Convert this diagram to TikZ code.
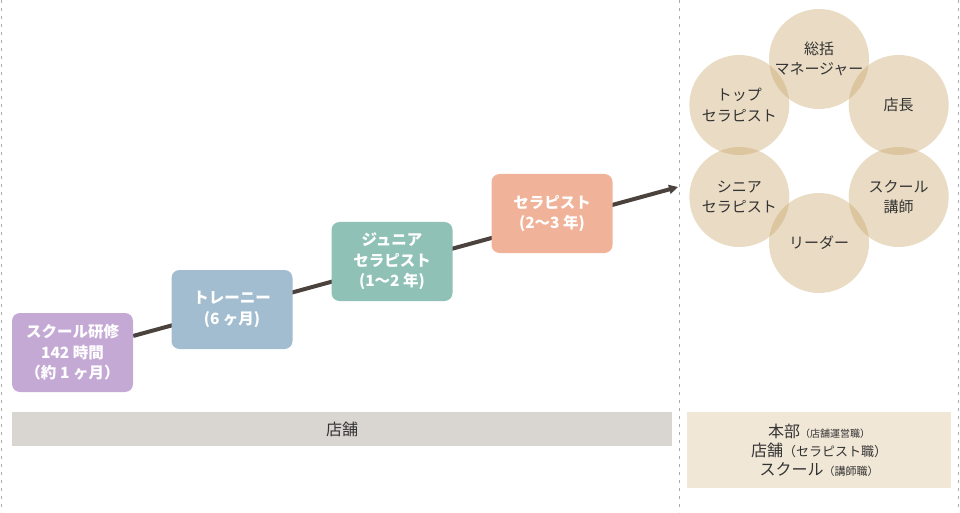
\documentclass[tikz,border=0pt]{standalone}
\usepackage{fontspec}
\setmainfont{Noto Sans CJK JP}
\usetikzlibrary{arrows.meta,backgrounds,calc}
\definecolor{schoolcolor}{RGB}{196, 169, 213}
\definecolor{traineecolor}{RGB}{163, 189, 208}
\definecolor{juniorcolor}{RGB}{143, 193, 183}
\definecolor{therapistcolor}{RGB}{240, 179, 153}
\definecolor{linecolor}{RGB}{75, 66, 61}
\definecolor{ringcolor}{RGB}{201, 166, 107}
\definecolor{storecolor}{RGB}{217, 214, 210}
\definecolor{hqcolor}{RGB}{241, 231, 215}
\definecolor{dashcolor}{RGB}{170, 170, 170}
\definecolor{inkcolor}{RGB}{51, 51, 51}

\begin{document}
\begin{tikzpicture}[x=1pt, y=1pt,
    stage/.style={rectangle, rounded corners=8pt, minimum width=121pt, minimum height=79pt, inner sep=0pt, align=center, text=white, font=\fontsize{15.5}{20.5}\selectfont\bfseries},
    post/.style={circle, fill=ringcolor, fill opacity=0.4, text opacity=1, minimum size=100pt, inner sep=0pt, align=center, text=inkcolor, font=\fontsize{15}{20.5}\selectfont},
    bar/.style={rectangle, inner sep=0pt, align=center, text=inkcolor, font=\fontsize{16}{19}\selectfont},
    arrow/.style={-{Triangle[length=9pt, width=9pt]}, line width=4pt, draw=linecolor},
    divider/.style={draw=dashcolor, line width=1pt, dash pattern=on 3pt off 5pt}
]
    \useasboundingbox (0,0) rectangle (960,512);

    % Dividers
    \coordinate (lefttop) at (1,512);
    \coordinate (leftbot) at (1,0);
    \coordinate (midtop) at (679,512);
    \coordinate (midbot) at (679,0);
    \coordinate (righttop) at (958,512);
    \coordinate (rightbot) at (958,0);
    \draw[divider] (lefttop) -- (leftbot);
    \draw[divider] (midtop) -- (midbot);
    \draw[divider] (righttop) -- (rightbot);

    % Career steps
    \node[stage, fill=schoolcolor] (school) at (72.5, 159.5) {スクール研修\\142 時間\\（約 1 ヶ月）};
    \node[stage, fill=traineecolor] (trainee) at (232, 202.5) {トレーニー\\(6 ヶ月)};
    \node[stage, fill=juniorcolor] (junior) at (392, 250.5) {ジュニア\\セラピスト\\(1〜2 年)};
    \node[stage, fill=therapistcolor] (therapist) at (552, 298.5) {セラピスト\\(2〜3 年)};

    % Arrow
    \coordinate (tip) at (678, 325);
    \begin{scope}[on background layer]
        \draw[arrow] (school) -- (tip);
    \end{scope}

    % Positions
    \coordinate (ring) at (819, 361);
    \foreach \ang/\name/\txt in {90/gm/{総括\\マネージャー}, 30/manager/{店長}, -30/teacher/{スクール\\講師}, -90/leader/{リーダー}, -150/senior/{シニア\\セラピスト}, 150/top/{トップ\\セラピスト}}
        \node[post] (\name) at ($(ring)+(\ang:92)$) {\txt};

    % Bars
    \node[bar, fill=storecolor, minimum width=660pt, minimum height=34pt] (store) at (342, 83) {店舗};
    \node[bar, fill=hqcolor, minimum width=264pt, minimum height=76pt] (hq) at (819, 62) {
        本部{\fontsize{10}{12}\selectfont（店舗運営職）}\\
        店舗{\fontsize{13}{12}\selectfont（セラピスト職）}\\
        スクール{\fontsize{11}{12}\selectfont（講師職）}
    };
\end{tikzpicture}
\end{document}
